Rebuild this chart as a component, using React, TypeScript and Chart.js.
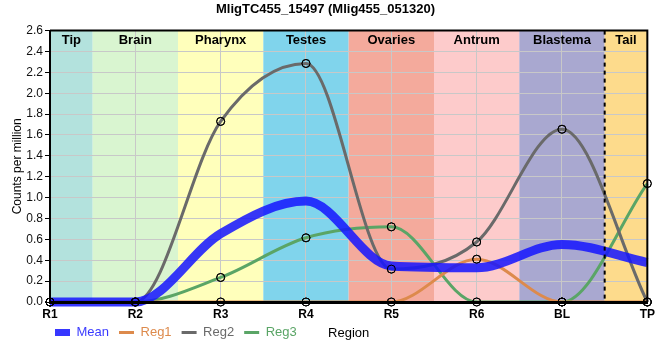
import React, { useEffect, useRef } from 'react';
import { Chart, registerables } from 'chart.js';

Chart.register(...registerables);

const chartTitle = 'MligTC455_15497 (Mlig455_051320)';
const regions = ['R1', 'R2', 'R3', 'R4', 'R5', 'R6', 'BL', 'TP'];
const meanValues = [0, 0, 0.655, 0.967, 0.345, 0.328, 0.552, 0.378];
const reg1Values = [0, 0, 0, 0, 0, 0.41, 0, 0];
const reg2Values = [0, 0, 1.73, 2.285, 0.315, 0.575, 1.655, 0];
const reg3Values = [0, 0, 0.235, 0.615, 0.72, 0, 0, 1.135];
const bandNames = ['Tip', 'Brain', 'Pharynx', 'Testes', 'Ovaries', 'Antrum', 'Blastema', 'Tail'];
const bandColors = ['#b3e2dd', '#d9f5d0', '#ffffbb', '#80d4ec', '#f4aa9c', '#fdcbcb', '#a9a8d0', '#fddb8c'];
const yMin = 0;
const yMax = 2.6;
const yStep = 0.2;

const FONT = "'Liberation Sans', Arial, sans-serif";

const bandsPlugin = {
  id: 'bands',
  beforeDraw(chart: any) {
    const { ctx, chartArea } = chart;
    const x = chart.scales.x;
    const n = regions.length;
    ctx.save();
    for (let i = 0; i < bandNames.length; i++) {
      const a = x.getPixelForValue(Math.max(i - 0.5, 0));
      const b = x.getPixelForValue(Math.min(i + 0.5, n - 1));
      ctx.fillStyle = bandColors[i];
      ctx.fillRect(a, chartArea.top, b - a, chartArea.bottom - chartArea.top);
    }
    ctx.restore();
  },
  beforeDatasetsDraw(chart: any) {
    const { ctx, chartArea } = chart;
    const x = chart.scales.x;
    const n = regions.length;
    ctx.save();
    ctx.fillStyle = '#000';
    ctx.font = `bold 13px ${FONT}`;
    ctx.textAlign = 'center';
    ctx.textBaseline = 'middle';
    for (let i = 0; i < bandNames.length; i++) {
      const a = x.getPixelForValue(Math.max(i - 0.5, 0));
      const b = x.getPixelForValue(Math.min(i + 0.5, n - 1));
      ctx.fillText(bandNames[i], (a + b) / 2, chartArea.top + 10);
    }
    ctx.restore();
  },
  afterDatasetsDraw(chart: any) {
    const { ctx, chartArea } = chart;
    const x = chart.scales.x;
    const n = regions.length;
    ctx.save();
    // dashed separator between Blastema and Tail
    const dx = x.getPixelForValue(n - 1.5);
    ctx.strokeStyle = '#000';
    ctx.lineWidth = 2;
    ctx.setLineDash([4, 4]);
    ctx.beginPath();
    ctx.moveTo(dx, chartArea.top);
    ctx.lineTo(dx, chartArea.bottom);
    ctx.stroke();
    ctx.setLineDash([]);
    // top and right frame
    ctx.lineWidth = 2;
    ctx.beginPath();
    ctx.moveTo(chartArea.left, chartArea.top);
    ctx.lineTo(chartArea.right, chartArea.top);
    ctx.lineTo(chartArea.right, chartArea.bottom);
    ctx.stroke();
    ctx.restore();
    // axis borders above the lines
    if (chart.scales.x.drawBorder) chart.scales.x.drawBorder();
    if (chart.scales.y.drawBorder) chart.scales.y.drawBorder();
    // markers above everything
    chart.data.datasets.forEach((ds: any, i: number) => {
      if (!ds.pointRadius) return;
      const meta = chart.getDatasetMeta(i);
      meta.data.forEach((p: any) => p.draw(ctx, chartArea));
    });
  },
};

const legendShift = {
  id: 'legendShift',
  afterLayout(chart: any) {
    const lg = chart.legend;
    if (lg) {
      const w = lg.right - lg.left;
      lg.left = 45;
      lg.right = 45 + w;
      lg.top -= 6;
      lg.bottom -= 6;
    }
  },
};

export default function App() {
  const ref = useRef<HTMLCanvasElement | null>(null);
  useEffect(() => {
    if (!ref.current) return;
    const mk = (label: string, data: number[], color: string, width: number, points: boolean, legendWidth: number) => ({
      label,
      data,
      borderColor: color,
      backgroundColor: color,
      borderWidth: width,
      legendWidth,
      cubicInterpolationMode: 'monotone' as const,
      fill: false,
      clip: false,
      pointRadius: points ? 4 : 0,
      pointHoverRadius: points ? 4 : 0,
      pointBorderColor: '#000',
      pointBorderWidth: 1,
      pointBackgroundColor: 'rgba(0,0,0,0)',
    });
    const chart = new Chart(ref.current, {
      type: 'line',
      data: {
        labels: regions,
        datasets: [
          mk('Mean', meanValues, 'rgba(20,20,255,0.85)', 9, false, 7),
          mk('Reg1', reg1Values, '#dd8a4c', 3, true, 3),
          mk('Reg2', reg2Values, '#6a6a6a', 3, true, 3),
          mk('Reg3', reg3Values, '#5aa566', 3, true, 3),
        ],
      },
      options: {
        animation: false,
        responsive: false,
        maintainAspectRatio: false,
        devicePixelRatio: 1,
        layout: { padding: { left: 0, right: 9, top: 0, bottom: 5 } },
        plugins: {
          title: {
            display: true,
            text: chartTitle,
            color: '#000',
            font: { family: FONT, size: 13, weight: 'bold' },
            padding: { top: 2, bottom: 13 },
          },
          legend: {
            position: 'bottom',
            align: 'start',
            labels: {
              usePointStyle: true,
              pointStyle: 'line',
              pointStyleWidth: 15,
              boxHeight: 13,
              padding: 10,
              font: { family: FONT, size: 13 },
              generateLabels: (c: any) => {
                const items = Chart.defaults.plugins.legend.labels.generateLabels(c);
                return items.map((it: any) => {
                  const ds = c.data.datasets[it.datasetIndex];
                  return {
                    ...it,
                    pointStyle: 'line',
                    lineWidth: ds.legendWidth,
                    strokeStyle: ds.borderColor,
                    fillStyle: ds.borderColor,
                    fontColor: ds.borderColor,
                  };
                });
              },
            },
          },
          tooltip: { enabled: false },
        },
        scales: {
          x: {
            type: 'category',
            offset: false,
            grid: { color: '#c8c8c8', drawTicks: false, offset: false },
            border: { color: '#000', width: 3 },
            ticks: { color: '#000', padding: 5, font: { family: FONT, size: 12, weight: 'bold' }, maxRotation: 0 },
            title: {
              display: true,
              text: 'Region',
              color: '#000',
              font: { family: FONT, size: 13 },
              padding: { top: 0, bottom: -19 },
            },
            afterFit: (s: any) => {
              s.height = 20;
            },
          },
          y: {
            min: yMin,
            max: yMax,
            grid: { color: '#c8c8c8', tickColor: '#000', tickLength: 5 },
            border: { color: '#000', width: 2 },
            ticks: {
              stepSize: yStep,
              color: '#111',
              padding: 2,
              font: { family: FONT, size: 12 },
              callback: (v: any) => Number(v).toFixed(1),
            },
            title: {
              display: true,
              text: 'Counts per million',
              color: '#000',
              font: { family: FONT, size: 12 },
              padding: { top: 10, bottom: 0 },
            },
            afterFit: (s: any) => {
              s.width = 50;
            },
          },
        },
      },
      plugins: [bandsPlugin, legendShift],
    } as any);
    return () => chart.destroy();
  }, []);
  return (
    <div style={{ position: 'fixed', left: 0, top: 0, width: 660, height: 360, background: '#fff' }}>
      <canvas ref={ref} width={660} height={360} />
    </div>
  );
}
